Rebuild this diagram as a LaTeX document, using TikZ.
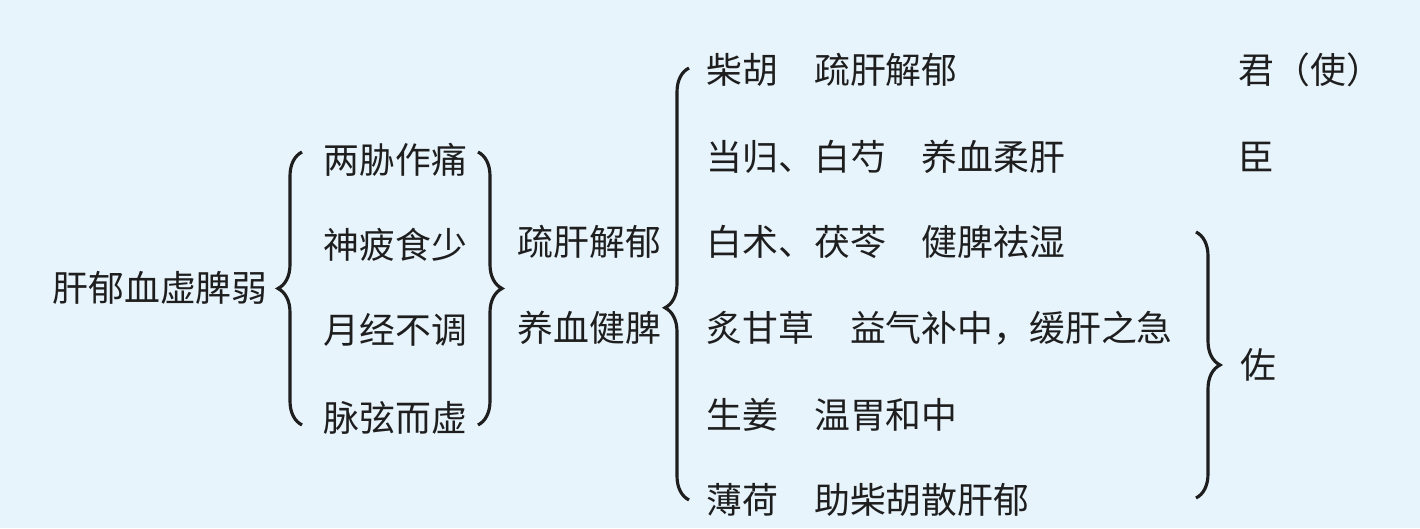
\documentclass[tikz,border=0pt]{standalone}
\usepackage{fontspec}
\setmainfont{Noto Sans CJK SC}
\usetikzlibrary{decorations.pathreplacing,positioning}
\definecolor{bgblue}{RGB}{232,244,252}
\definecolor{inkgray}{RGB}{30,30,30}

\tikzset{
  txt/.style={inner sep=0pt, anchor=west, text=inkgray, font=\fontsize{10.2}{12}\selectfont},
  brc/.style={decorate, decoration={brace, amplitude=0.24cm, aspect=#1}, draw=inkgray, line width=0.9pt},
  brc/.default=0.5
}

\begin{document}
\begin{tikzpicture}
        % Background
        \fill[bgblue] (0,0) rectangle (14.2,5.28);
        \useasboundingbox (0,0) rectangle (14.2,5.28);

        % Main symptom
        \node [txt, anchor=center] (main) at (1.60,2.40) {肝郁血虚脾弱};

        % Symptoms
        \node [txt] (s1) at (3.23,3.68) {两胁作痛};
        \node [txt] (s2) at (3.23,2.83) {神疲食少};
        \node [txt] (s3) at (3.23,1.98) {月经不调};
        \node [txt] (s4) at (3.23,1.10) {脉弦而虚};

        % Treatment
        \node [txt] (t1) at (5.17,2.86) {疏肝解郁};
        \node [txt] (t2) at (5.17,2.00) {养血健脾};

        % Herbs
        \node [txt] (h1) at (7.06,4.58) {柴胡　疏肝解郁};
        \node [txt] (h2) at (7.06,3.71) {当归、白芍　养血柔肝};
        \node [txt] (h3) at (7.06,2.86) {白术、茯苓　健脾祛湿};
        \node [txt] (h4) at (7.06,2.00) {炙甘草　益气补中，缓肝之急};
        \node [txt] (h5) at (7.06,1.13) {生姜　温胃和中};
        \node [txt] (h6) at (7.06,0.28) {薄荷　助柴胡散肝郁};

        % Roles
        \node [txt] (r1) at (12.38,4.58) {君（使）};
        \node [txt] (r2) at (12.38,3.71) {臣};
        \node [txt] (r3) at (12.40,1.63) {佐};

        % Braces
        \coordinate (b1a) at (3.02,1.03);
        \coordinate (b1b) at (3.02,3.76);
        \draw [brc] (b1a) -- (b1b);
        \coordinate (b2a) at (4.78,3.76);
        \coordinate (b2b) at (4.78,1.03);
        \draw [brc] (b2a) -- (b2b);
        \coordinate (b3a) at (6.89,0.28);
        \coordinate (b3b) at (6.89,4.60);
        \draw [brc=0.445] (b3a) -- (b3b);
        \coordinate (b4a) at (11.96,2.96);
        \coordinate (b4b) at (11.96,0.30);
        \draw [brc] (b4a) -- (b4b);
    \end{tikzpicture}
\end{document}
